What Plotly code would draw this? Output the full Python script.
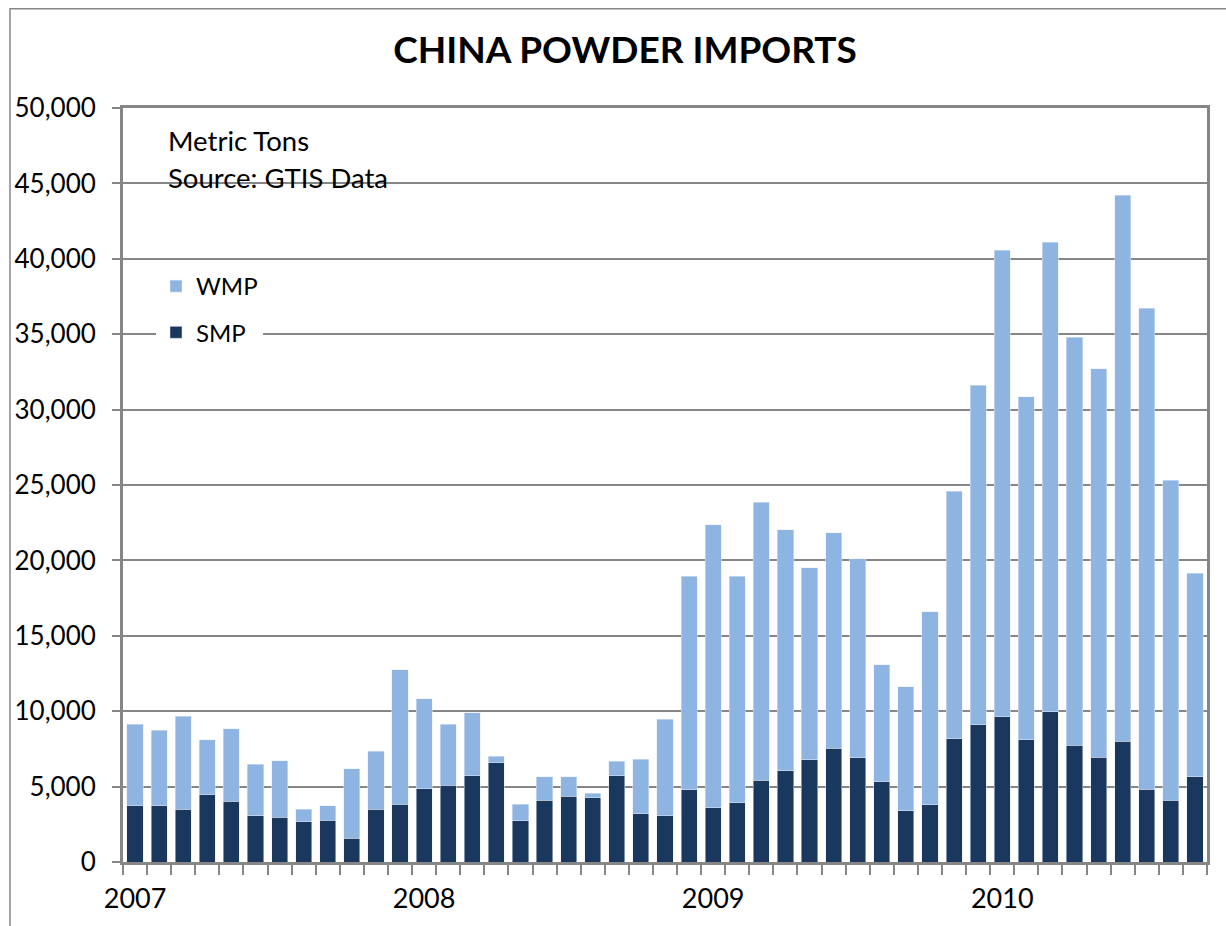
"""China powder imports, stacked monthly bars."""

import plotly.graph_objects as go

# Jan 2007 .. Sep 2010
months = [f"{y}-{m:02d}" for y in (2007, 2008, 2009, 2010) for m in range(1, 13)][:45]

smp = [
    3740, 3740, 3490, 4450, 4030, 3080, 2960, 2680, 2770, 1570, 3490, 3830,
    4870, 5090, 5710, 6570, 2740, 4110, 4360, 4250, 5710, 3190, 3080, 4780,
    3590, 3920, 5430, 6050, 6780, 7530, 6910, 5320, 3390, 3810, 8170, 9090,
    9640, 8120, 9960, 7730, 6960, 8020, 4830, 4090, 5670,
]
total = [
    9140, 8740, 9670, 8100, 8830, 6480, 6700, 3490, 3720, 6170, 7340, 12760,
    10840, 9140, 9910, 7010, 3830, 5640, 5640, 4560, 6680, 6810, 9470, 18940,
    22350, 18940, 23860, 22040, 19500, 21840, 20120, 13070, 11610, 16610, 24590, 31600,
    40560, 30860, 41110, 34790, 32700, 44200, 36730, 25320, 19140,
]
wmp = [t - s for t, s in zip(total, smp)]

year_labels = ["2007", "2008", "2009", "2010"]

FONT = "Lato, 'Open Sans', sans-serif"
GRID = "#868686"

W, H = 1226, 926
ML, MR, MT, MB = 123, 19, 108, 64
PW, PH = W - ML - MR, H - MT - MB


def px(x):
    """screen x -> paper x"""
    return (x - ML) / PW


def py(y):
    """screen y -> paper y"""
    return 1 - (y - MT) / PH


x = list(range(len(months)))

fig = go.Figure()
fig.add_trace(
    go.Bar(x=x, y=smp, name="SMP", marker_color="#1A375E", legendgroup="smp", legendrank=2,
           customdata=months, hovertemplate="%{customdata}<br>SMP: %{y:,}<extra></extra>")
)
fig.add_trace(
    go.Bar(x=x, y=wmp, name="WMP", marker_color="#8EB4E2", legendgroup="wmp", legendrank=1,
           customdata=months, hovertemplate="%{customdata}<br>WMP: %{y:,}<extra></extra>")
)

fig.update_layout(
    width=W,
    height=H,
    barmode="stack",
    bargap=0.33,
    plot_bgcolor="white",
    paper_bgcolor="white",
    # bottom margin is left a little short: the x axis automargin grows it
    # back to MB (the month tick marks only draw after that push)
    margin=dict(l=ML, r=MR, t=MT, b=MB - 4),
    font=dict(family=FONT, size=26, color="black"),
    title=dict(
        text="<b>CHINA POWDER IMPORTS</b>",
        xref="container", x=625 / W, xanchor="center",
        yref="container", y=1 - 50 / H, yanchor="middle",
        font=dict(family=FONT, size=37, color="black"),
    ),
    legend=dict(
        x=px(156), xanchor="left", y=py(264), yanchor="top",
        bgcolor="white", traceorder="grouped", tracegroupgap=12,
        font=dict(size=24),
    ),
    xaxis=dict(
        range=[-0.5, len(months) - 0.5],
        tickvals=[0, 12, 24, 36],
        ticktext=year_labels,
        ticks="",
        showgrid=False,
        showline=True, linecolor=GRID, linewidth=3, mirror=True,
        tickfont=dict(size=27),
        ticklabelstandoff=11,
        minor=dict(tick0=-0.5, dtick=1, ticks="outside", ticklen=10,
                   tickcolor=GRID, tickwidth=2, showgrid=False),
        zeroline=False,
    ),
    yaxis=dict(
        range=[0, 50000],
        dtick=5000,
        tickformat=",",
        ticks="outside", ticklen=8, tickcolor=GRID, tickwidth=2,
        showgrid=True, gridcolor=GRID, gridwidth=1.5,
        showline=True, linecolor=GRID, linewidth=3, mirror=True,
        tickfont=dict(size=26),
        ticklabelstandoff=11,
        automargin=False,
        zeroline=False,
    ),
)

fig.add_annotation(text="Metric Tons", xref="paper", yref="paper",
                   x=px(166), y=py(141), xanchor="left", yanchor="middle",
                   showarrow=False, font=dict(size=27.5))
fig.add_annotation(text="Source: GTIS Data", xref="paper", yref="paper",
                   x=px(166), y=py(177), xanchor="left", yanchor="middle",
                   showarrow=False, font=dict(size=27.5))

# outer chart border (only the top and left edges fall inside the frame)
fig.add_shape(type="line", xref="paper", yref="paper",
              x0=px(10), x1=1.2, y0=py(8.8), y1=py(8.8),
              line=dict(color=GRID, width=1.5))
fig.add_shape(type="line", xref="paper", yref="paper",
              x0=px(10), x1=px(10), y0=py(8), y1=-0.2,
              line=dict(color=GRID, width=1.5))

# drop the default page margin so the figure fills the window exactly
fig.write_html("out.html", config={"displayModeBar": False},
               post_script="document.body.style.margin = '0';")
